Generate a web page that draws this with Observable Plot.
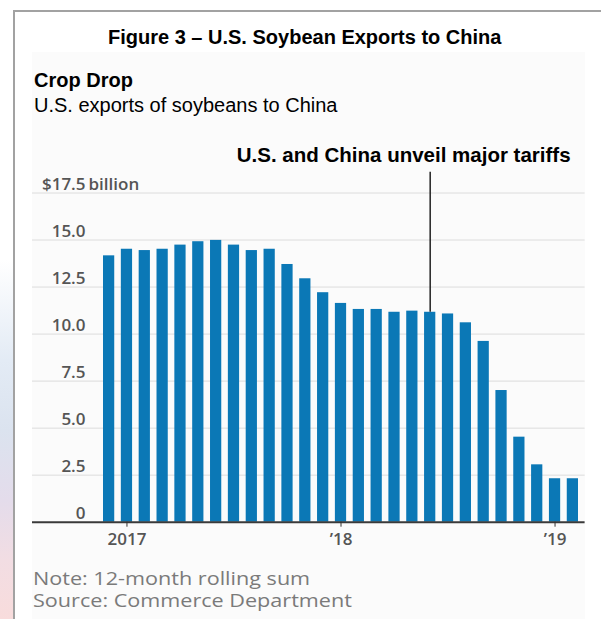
<!DOCTYPE html>
<html>
<head>
<meta charset="utf-8">
<script src="https://cdn.jsdelivr.net/npm/d3@7"></script>
<script src="https://cdn.jsdelivr.net/npm/@observablehq/plot@0.6"></script>
<style>
  html, body { margin: 0; padding: 0; background: #fff; }
  body { width: 601px; height: 619px; position: relative; overflow: hidden; font-family: "Liberation Sans", Arial, sans-serif; }
  #strip { position: absolute; left: 0; top: 0; width: 13px; height: 619px;
    background: linear-gradient(to bottom, #fff 0px, #fff 260px, #e3ebf5 360px, #dbe3ef 430px, #e4dceb 500px, #f2dde3 560px, #f8dcdc 619px); }
  #box { position: absolute; left: 13px; top: 10px; width: 600px; height: 620px; border-top: 2px solid #a2a2a2; border-left: 2px solid #a2a2a2; background: #fff; }
  #panel { position: absolute; left: 32px; top: 52px; width: 553px; height: 567px; background: #fbfbfb; }
  .t { position: absolute; white-space: nowrap; color: #000; }
  #title { left: 108px; top: 26px; font-size: 20px; font-weight: bold; }
  #sub1 { left: 34px; top: 69px; font-size: 20px; font-weight: bold; }
  #sub2 { left: 34px; top: 94px; font-size: 20px; }
  #chart { position: absolute; left: 0; top: 130px; }
  .note { position: absolute; left: 33px; font-family: "Open Sans", sans-serif; font-size: 18px; color: #7a7a7a; white-space: nowrap; transform: scaleX(1.2); transform-origin: left center; }
</style>
</head>
<body>
<div id="strip"></div>
<div id="box"></div>
<div id="panel"></div>
<div class="t" id="title">Figure 3 – U.S. Soybean Exports to China</div>
<div class="t" id="sub1">Crop Drop</div>
<div class="t" id="sub2">U.S. exports of soybeans to China</div>
<div id="chart"></div>
<div class="note" style="top:566px">Note: 12-month rolling sum</div>
<div class="note" style="top:588px">Source: Commerce Department</div>
<script>
// Months (Dec 2016 – Feb 2019), 12-month rolling sum of U.S. soybean exports to China, $ billion
const months = ["2016-12","2017-01","2017-02","2017-03","2017-04","2017-05","2017-06","2017-07","2017-08","2017-09","2017-10","2017-11","2017-12",
                "2018-01","2018-02","2018-03","2018-04","2018-05","2018-06","2018-07","2018-08","2018-09","2018-10","2018-11","2018-12",
                "2019-01","2019-02"];
const values = [14.16, 14.51, 14.44, 14.51, 14.73, 14.91, 14.98, 14.73, 14.44, 14.51, 13.70, 12.94, 12.20,
                11.63, 11.31, 11.31, 11.16, 11.22, 11.16, 11.07, 10.60, 9.61, 7.00, 4.52, 3.05,
                2.31, 2.31];
const yTicks = [0, 2.5, 5, 7.5, 10, 12.5, 15, 17.5];
const xTicks = ["2017-01", "2018-01", "2019-01"];
const xTickLabels = ["2017", "’18", "’19"];
const annotationMonth = "2018-06";
const annotationText = "U.S. and China unveil major tariffs";
const annotationTop = 18.6;

const data = months.map((m, i) => ({month: m, value: values[i]}));
const annot = data.filter(d => d.month === annotationMonth);

const fmtY = d => d === 17.5 ? "$17.5" : d === 0 ? "0" : d.toFixed(1);
const fmtX = d => xTickLabels[xTicks.indexOf(d)];

const chart = Plot.plot({
  width: 601,
  height: 430,
  marginLeft: 96.4,
  marginRight: 16.4,
  marginTop: 62.5,
  marginBottom: 38.3,
  style: {background: "transparent", fontFamily: "'Open Sans', sans-serif"},
  x: {type: "band", domain: months, padding: 0.37, align: 0.5, round: false, axis: null},
  y: {domain: [0, 17.5], axis: null},
  marks: [
    Plot.ruleY(yTicks.filter(d => d > 0), {stroke: "#dcdcdc", strokeWidth: 1, insetLeft: -64.4, insetRight: 0}),
    Plot.barY(data, {x: "month", y: "value", fill: "#0b78b6"}),
    Plot.ruleY([0], {stroke: "#3a3a3a", strokeWidth: 2, insetLeft: -64.4, insetRight: 0}),
    Plot.axisY({ticks: yTicks, anchor: "left", tickSize: 0, tickPadding: 11.4, dy: -8.4,
      tickFormat: fmtY, fontSize: 17, fontWeight: 600, fill: "#555", label: null}),
    Plot.text([17.5], {y: d => d, text: () => "billion", frameAnchor: "left", textAnchor: "start",
      dx: -8.4, dy: -8.4, fontSize: 17, fontWeight: 600, fill: "#555"}),
    Plot.axisX({ticks: xTicks, tickSize: 5, tickPadding: 6, tickFormat: fmtX, stroke: "#333",
      fontSize: 17, fontWeight: 600, fill: "#555", label: null}),
    Plot.ruleX(annot, {x: "month", y1: "value", y2: () => annotationTop, stroke: "#222", strokeWidth: 1.5}),
    Plot.text(annot, {x: "month", y: () => 19.5, text: () => annotationText, dx: -26.5,
      fontFamily: "'Liberation Sans', Arial, sans-serif", fontSize: 20.5, fontWeight: "bold", fill: "#000"})
  ]
});
document.getElementById("chart").appendChild(chart);
</script>
</body>
</html>
